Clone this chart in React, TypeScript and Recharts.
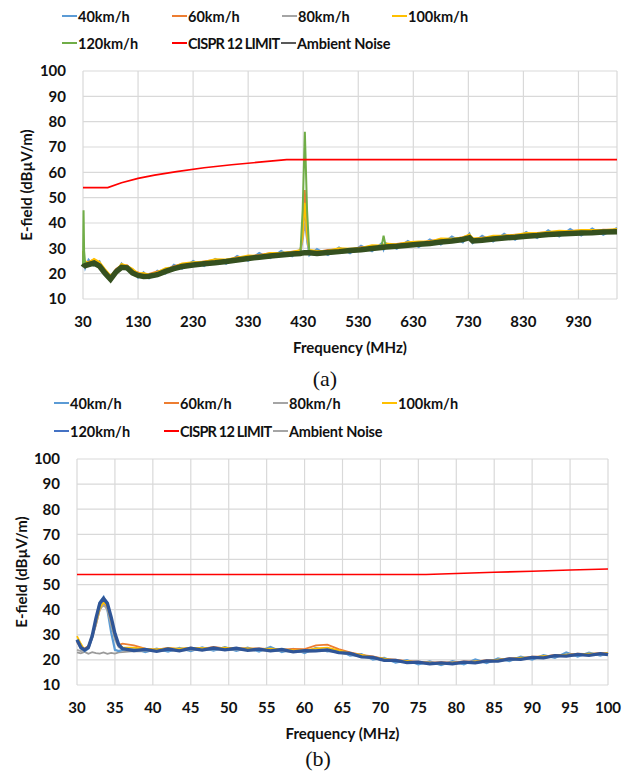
import { LineChart, Line, XAxis, YAxis, CartesianGrid } from 'recharts';

const FONT = 'Lato, "Open Sans", sans-serif';

// ---- chart (a): 30 - 1000 MHz ----
const freqA = [30, 31, 32, 34, 40, 50, 60, 70, 80, 90, 100, 110, 120, 130, 140, 150, 165, 180, 195, 210, 230, 250, 270, 290, 310, 330, 350, 370, 390, 410, 425, 429, 433, 437, 441, 455, 475, 495, 515, 535, 555, 572, 576, 580, 600, 620, 640, 660, 680, 700, 720, 732, 738, 755, 775, 795, 815, 835, 855, 875, 895, 915, 935, 955, 975, 1000];
const speed40A = [28, 26, 24.8, 22.1, 25.6, 23.2, 24.9, 19.4, 19.3, 20, 24.1, 21.5, 21.8, 18.4, 20.6, 18.1, 21.2, 20, 23.6, 21.9, 25.1, 22.9, 25.9, 23.8, 27.1, 25, 28.2, 26.1, 29, 26.8, 29.7, 34, 47, 33, 27.2, 29.8, 27.3, 30.4, 28, 31.1, 28.8, 32, 29.4, 32.1, 29.8, 33, 30.5, 33.6, 31.4, 34.7, 32.3, 35.9, 32, 35, 32.6, 35.8, 33.3, 36.5, 34, 37.2, 34.6, 37.7, 35, 37.9, 35.3, 38.1];
const speed60A = [29, 26.5, 24.5, 24.4, 24.7, 25.6, 24.1, 21.3, 18.6, 21.9, 23.3, 23.4, 21.2, 20.5, 19.5, 19.9, 20.9, 21.5, 23, 23.9, 24, 24.8, 25.4, 25.3, 26.5, 26.7, 27.4, 28.1, 28, 28.7, 29.1, 36, 53, 36, 29.2, 28.6, 29.4, 29.6, 29.5, 30.5, 30.6, 31.1, 31.5, 31.2, 31.8, 32.3, 32.2, 32.9, 33.5, 33.5, 34.4, 35.2, 33.6, 34.2, 34.4, 35, 35.4, 35.5, 36.1, 36.4, 36.3, 36.9, 37.1, 36.8, 37.4, 37.3];
const speed80A = [26, 25, 23.6, 23, 23.4, 24.1, 23.4, 20, 18, 20.4, 22.4, 22.1, 20.2, 19.2, 18.9, 18.8, 19.5, 20.8, 21.8, 22.7, 23.2, 23.9, 24.1, 24.8, 25.2, 26, 26.3, 27, 27.2, 27.8, 28, 33, 40, 33, 28.2, 27.9, 28.3, 28.6, 29, 29.2, 29.9, 30.2, 30.5, 30.4, 30.8, 31.1, 31.6, 31.8, 32.5, 32.8, 33.5, 34.1, 32.9, 33.1, 33.7, 34, 34.4, 34.7, 35.1, 35.4, 35.7, 35.8, 36.1, 36.1, 36.4, 36.4];
const speed100A = [29, 27, 25.2, 25, 24.3, 25.9, 24.6, 21.8, 19.2, 21.2, 23.9, 23.1, 21.9, 20.1, 20.3, 19.6, 20.6, 22.2, 22.6, 24.1, 24.5, 24.7, 25.7, 25.6, 26.3, 27.2, 27.1, 28.2, 28.3, 28.6, 29.4, 35, 48, 35, 29.4, 29, 29.1, 30.1, 29.9, 30.2, 31.3, 31.2, 31.3, 31.9, 31.6, 32.4, 32.7, 32.7, 33.9, 33.8, 34.3, 35.5, 34, 34, 35, 35.1, 35.3, 36.1, 36, 36.5, 37, 36.8, 37.3, 37.3, 37.2, 37.7];
const speed120A = [23.5, 45, 29, 23.8, 24.2, 24.8, 23.4, 20.6, 18, 21.2, 22.6, 22.8, 20.4, 19.8, 19, 19.4, 19.7, 21.4, 22.1, 23.2, 23.5, 24.4, 24.4, 25.3, 25.5, 26.5, 26.6, 27.5, 27.5, 28.3, 28.5, 45, 76, 45, 28.6, 28.1, 28.8, 28.8, 29.5, 29.5, 30.4, 30.4, 35, 30.6, 31.3, 31.3, 32.1, 32, 33, 33, 34, 34.4, 33.4, 33.3, 34.2, 34.2, 34.9, 34.9, 35.6, 35.6, 36.2, 36, 36.6, 36.3, 36.9, 36.6];
const ambientA = [22.5, 22.8, 23, 23.2, 23.6, 24.2, 23, 20.2, 17.8, 20.7, 22.5, 22.3, 20.3, 19.3, 18.9, 19, 19.6, 20.9, 22, 22.8, 23.4, 23.9, 24.3, 24.8, 25.4, 26, 26.5, 27, 27.4, 27.8, 28, 28.2, 28.3, 28.3, 28.3, 28, 28.4, 28.7, 29.1, 29.4, 29.9, 30.3, 30.4, 30.5, 30.8, 31.2, 31.6, 31.9, 32.5, 32.9, 33.5, 34.2, 32.9, 33.2, 33.7, 34.1, 34.4, 34.8, 35.1, 35.5, 35.7, 35.9, 36.1, 36.2, 36.4, 36.5];
const limitFreqA = [30, 75, 100, 130, 160, 200, 250, 300, 350, 400, 1000];
const limitA = [54, 54, 55.9, 57.6, 58.9, 60.3, 61.8, 63, 64, 65, 65];
const xTicksA = [30, 130, 230, 330, 430, 530, 630, 730, 830, 930];

// ---- chart (b): 30 - 100 MHz ----
const freqB = [30, 30.5, 31, 31.5, 32, 32.5, 33, 33.5, 34, 34.5, 35, 35.5, 36, 37.5, 39, 40.5, 42, 43.5, 45, 46.5, 48, 49.5, 51, 52.5, 54, 55.5, 57, 58.5, 60, 61.5, 63, 64.5, 66, 67.5, 69, 70.5, 72, 73.5, 75, 76.5, 78, 79.5, 81, 82.5, 84, 85.5, 87, 88.5, 90, 91.5, 93, 94.5, 96, 97.5, 99, 100];
const speed40B = [28, 24.5, 23.5, 24.5, 29, 36, 43, 45, 40, 31, 24, 23.5, 24, 24.7, 23.1, 24.5, 23.3, 24.8, 23.5, 25, 23.7, 25.1, 23.6, 24.9, 23.3, 25.2, 23.1, 24.4, 22.7, 24.8, 23.4, 23.9, 21.7, 22.3, 20.1, 20.8, 18.9, 19.9, 18.2, 19.4, 17.9, 19.5, 18.2, 20.2, 18.7, 20.6, 19.5, 21.3, 20.1, 21.9, 20.8, 23, 21.3, 22.9, 21.7, 22.8];
const speed60B = [27, 25, 24.5, 25.5, 29, 34, 40, 42.5, 40.5, 35, 29, 26, 26.5, 25.8, 24.5, 24.1, 24.8, 24.3, 24.9, 24.4, 25.2, 24.6, 24.8, 24.5, 24.6, 24.3, 24.1, 24.4, 24.3, 25.8, 26.1, 24.3, 23, 22, 21.4, 20.4, 20.1, 19.5, 19.3, 18.9, 19.1, 18.9, 19.4, 19.3, 19.9, 20, 20.7, 20.7, 21.3, 21.3, 22, 22, 22.5, 22.3, 22.8, 22.6];
const speed80B = [24, 23.5, 23.8, 25, 28.5, 34, 40, 42, 40, 34, 28, 25, 24.5, 23.8, 23.7, 23.5, 24, 23.8, 24.1, 24, 24.3, 24.2, 24.1, 24, 23.9, 23.8, 23.7, 23.4, 23.3, 23.9, 23.8, 23, 22.2, 21.4, 20.7, 19.9, 19.5, 19, 18.8, 18.5, 18.5, 18.5, 18.8, 18.9, 19.3, 19.6, 20.1, 20.3, 20.7, 20.9, 21.4, 21.6, 21.9, 21.9, 22.2, 22.2];
const speed100B = [29.5, 26.5, 24, 25.5, 30, 35, 40.5, 43, 41.5, 36, 29.5, 26, 25, 24.9, 24.4, 24.2, 24.6, 24.5, 24.8, 24.7, 24.6, 24.9, 24.5, 24.6, 24.3, 24.5, 24.2, 23.9, 23.8, 24.6, 24.9, 23.8, 22.6, 22, 21, 20.5, 19.7, 19.6, 18.9, 18.9, 18.5, 18.9, 18.8, 19.4, 19.5, 20.1, 20.3, 20.9, 21, 21.5, 21.6, 22.1, 22.2, 22.5, 22.4, 22.7];
const speed120B = [28, 25, 24, 25, 29.5, 36.5, 42.5, 44.5, 42.5, 37, 30.5, 26, 24.5, 23.7, 24.2, 23.4, 24.3, 23.6, 24.6, 23.9, 24.7, 24, 24.6, 23.8, 24.3, 23.6, 24.1, 23.2, 23.7, 23.6, 24, 22.9, 22.6, 21.2, 21, 19.8, 19.8, 18.9, 19.1, 18.4, 18.8, 18.4, 19.1, 18.8, 19.6, 19.5, 20.4, 20.2, 21, 20.8, 21.7, 21.5, 22.2, 21.8, 22.5, 22.1];
const ambientB = [23, 22.6, 23.2, 22.4, 23.1, 22.7, 22.5, 23, 22.4, 22.8, 22.5, 23, 23.1, 23.5, 23.4, 23.6, 23.7, 23.8, 23.9, 24, 24.1, 24.1, 24, 23.9, 23.8, 23.7, 23.5, 23.3, 23.1, 23.5, 23.6, 22.9, 22.1, 21.3, 20.6, 19.9, 19.4, 19, 18.7, 18.5, 18.4, 18.5, 18.7, 18.9, 19.2, 19.6, 20, 20.3, 20.6, 20.9, 21.3, 21.6, 21.8, 21.9, 22.1, 22.2];
const limitFreqB = [30, 76, 80, 85, 90, 95, 100];
const limitB = [54, 54, 54.4, 54.9, 55.3, 55.8, 56.2];
const xTicksB = [30, 35, 40, 45, 50, 55, 60, 65, 70, 75, 80, 85, 90, 95, 100];

const yTicks = [10, 20, 30, 40, 50, 60, 70, 80, 90, 100];

const rowsA = freqA.map((f, i) => ({
  f, s40: speed40A[i], s60: speed60A[i], s80: speed80A[i], s100: speed100A[i], s120: speed120A[i], amb: ambientA[i],
}));
const limitRowsA = limitFreqA.map((f, i) => ({ f, limit: limitA[i] }));
const rowsB = freqB.map((f, i) => ({
  f, s40: speed40B[i], s60: speed60B[i], s80: speed80B[i], s100: speed100B[i], s120: speed120B[i], amb: ambientB[i],
}));
const limitRowsB = limitFreqB.map((f, i) => ({ f, limit: limitB[i] }));

type LegendItem = { name: string; color: string; x: number; row: number; squeeze?: number };

function LegendBlock({ items, top }: { items: LegendItem[]; top: number[] }) {
  return (
    <>
      {items.map((it) => (
        <div
          key={it.name}
          style={{
            position: 'absolute', left: it.x, top: top[it.row] - 10, height: 20,
            display: 'flex', alignItems: 'center', whiteSpace: 'nowrap',
            fontFamily: FONT, fontWeight: 700, fontSize: 14.5, color: '#111',
            letterSpacing: it.squeeze ?? 0,
          }}
        >
          <span style={{ display: 'inline-block', width: 15, height: 2, background: it.color, marginRight: 1 }} />
          {it.name}
        </div>
      ))}
    </>
  );
}

const tickStyle = { fontSize: 15, fontWeight: 700, fill: '#111', fontFamily: FONT };
const titleStyle = { fontSize: 15, fontWeight: 700, fill: '#111', fontFamily: FONT, textAnchor: 'middle' as const };

type SeriesDef = { key: string; color: string; width: number };

function SpectrumChart(props: {
  top: number; rows: any[]; limitRows: any[]; xTicks: number[]; xDomain: [number, number];
  margin: { top: number; right: number; bottom: number; left: number };
  series: SeriesDef[]; yTitleOffset: number; xTitleOffset: number;
}) {
  const { top, rows, limitRows, xTicks, xDomain, margin, series, yTitleOffset, xTitleOffset } = props;
  return (
    <div style={{ position: 'absolute', left: 0, top }}>
      <LineChart width={633} height={320} data={rows} margin={margin}>
        <CartesianGrid stroke="#D9D9D9" strokeWidth={1.2} />
        <XAxis
          dataKey="f" type="number" domain={xDomain} ticks={xTicks} interval={0}
          axisLine={false} tickLine={false} tickSize={0} tickMargin={17} height={60}
          tick={tickStyle}
          label={{ value: 'Frequency (MHz)', position: 'insideBottom', offset: xTitleOffset, style: titleStyle }}
        />
        <YAxis
          type="number" domain={[10, 100]} ticks={yTicks} interval={0} width={60}
          axisLine={false} tickLine={false} tickSize={0} tickMargin={17}
          tick={tickStyle}
          label={{ value: 'E-field (dBµV/m)', angle: -90, position: 'insideLeft', offset: yTitleOffset, style: titleStyle }}
        />
        {series.map((s) => (
          <Line
            key={s.key} dataKey={s.key} stroke={s.color} strokeWidth={s.width}
            dot={false} type="linear" isAnimationActive={false}
          />
        ))}
        <Line data={limitRows} dataKey="limit" stroke="#FF0000" strokeWidth={1.7} dot={false} type="linear" isAnimationActive={false} />
      </LineChart>
    </div>
  );
}

const legendA: LegendItem[] = [
  { name: '40km/h', color: '#5B9BD5', x: 62, row: 0 },
  { name: '60km/h', color: '#ED7D31', x: 172, row: 0 },
  { name: '80km/h', color: '#A5A5A5', x: 282, row: 0 },
  { name: '100km/h', color: '#FFC000', x: 392, row: 0 },
  { name: '120km/h', color: '#70AD47', x: 62, row: 1 },
  { name: 'CISPR 12 LIMIT', color: '#FF0000', x: 172, row: 1, squeeze: -0.8 },
  { name: 'Ambient Noise', color: '#595959', x: 281, row: 1, squeeze: -0.2 },
];
const legendB: LegendItem[] = [
  { name: '40km/h', color: '#5B9BD5', x: 54, row: 0 },
  { name: '60km/h', color: '#ED7D31', x: 164, row: 0 },
  { name: '80km/h', color: '#A5A5A5', x: 273, row: 0 },
  { name: '100km/h', color: '#FFC000', x: 382, row: 0 },
  { name: '120km/h', color: '#4472C4', x: 54, row: 1 },
  { name: 'CISPR 12 LIMIT', color: '#FF0000', x: 164, row: 1, squeeze: -0.8 },
  { name: 'Ambient Noise', color: '#A5A5A5', x: 273, row: 1, squeeze: -0.2 },
];

const seriesA: SeriesDef[] = [
  { key: 's40', color: '#5B9BD5', width: 1.8 },
  { key: 's60', color: '#ED7D31', width: 1.8 },
  { key: 's80', color: '#A5A5A5', width: 1.8 },
  { key: 's100', color: '#FFC000', width: 1.8 },
  { key: 's120', color: '#70AD47', width: 2 },
  { key: 'amb', color: '#35501F', width: 5.5 },
];
const seriesB: SeriesDef[] = [
  { key: 'amb', color: '#9A9A9A', width: 1.8 },
  { key: 's40', color: '#5B9BD5', width: 2.2 },
  { key: 's60', color: '#ED7D31', width: 1.8 },
  { key: 's80', color: '#A5A5A5', width: 1.8 },
  { key: 's100', color: '#FFC000', width: 1.8 },
  { key: 's120', color: '#2F5597', width: 3.4 },
];

export default function App() {
  return (
    <div style={{ position: 'absolute', left: 0, top: 0, width: 633, height: 777, background: '#fff' }}>
      <LegendBlock items={legendA} top={[16, 43]} />
      <SpectrumChart
        top={60} rows={rowsA} limitRows={limitRowsA} xTicks={xTicksA} xDomain={[30, 1000]}
        margin={{ top: 11, right: 16, bottom: 21, left: 23 }} series={seriesA}
        yTitleOffset={4} xTitleOffset={6}
      />
      <div style={{ position: 'absolute', left: 0, width: 650, top: 366, textAlign: 'center', fontFamily: '"Liberation Serif", serif', fontSize: 22, color: '#111' }}>(a)</div>

      <LegendBlock items={legendB} top={[403, 431]} />
      <SpectrumChart
        top={445} rows={rowsB} limitRows={limitRowsB} xTicks={xTicksB} xDomain={[30, 100]}
        margin={{ top: 14, right: 25, bottom: 20, left: 17 }} series={seriesB}
        yTitleOffset={5} xTitleOffset={6}
      />
      <div style={{ position: 'absolute', left: 0, width: 636, top: 746, textAlign: 'center', fontFamily: '"Liberation Serif", serif', fontSize: 22, color: '#111' }}>(b)</div>
    </div>
  );
}
